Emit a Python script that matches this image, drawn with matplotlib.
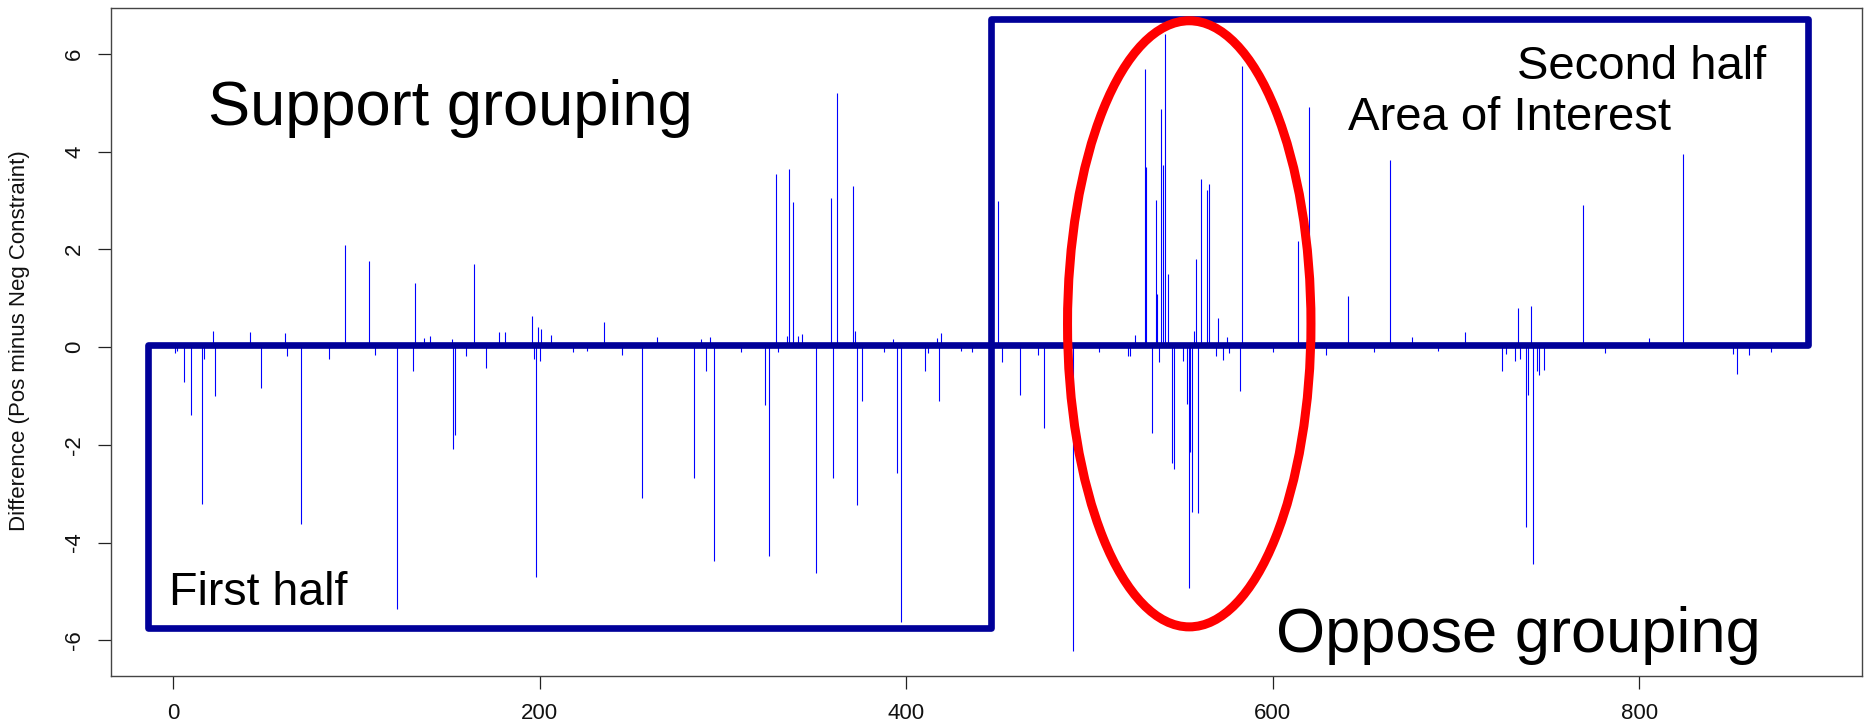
import numpy as np
import matplotlib
matplotlib.use("Agg")
import matplotlib.pyplot as plt
from matplotlib.patches import Rectangle, Ellipse

plt.rcParams['font.family'] = ['Liberation Sans', 'DejaVu Sans']
plt.rcParams['axes.unicode_minus'] = False

# ---- data: series length and the non-zero differences ----
n_points = 885
spike_index = [
    1, 2, 6, 10, 16, 17, 22, 23, 42, 48, 61, 62, 70, 85, 94, 107, 110, 122, 131, 132,
    137, 140, 152, 153, 154, 160, 164, 171, 178, 181, 196, 197, 198, 199, 200, 201, 206,
    218, 226, 235, 245, 256, 264, 284, 288, 291, 293, 295, 310, 323, 325, 329, 330, 335,
    336, 338, 341, 343, 351, 359, 360, 362, 371, 372, 373, 376, 388, 393, 395, 397, 410,
    412, 417, 418, 419, 430, 436,
    450, 452, 462, 472, 475, 491, 505, 521, 522, 525, 530, 531, 534, 536, 537, 538, 539,
    540, 541, 543, 545, 546, 551, 553, 554, 555, 556, 557, 558, 559, 561, 564, 565, 569,
    570, 573, 575, 576, 582, 583, 600, 614, 620, 629, 641, 655, 664, 676, 690,
    705, 725, 727, 732, 734, 735, 738, 739, 741, 742, 744, 745, 748, 769, 781, 805, 824,
    851, 853, 860, 872,
]
spike_value = [
    -0.12, -0.08, -0.71, -1.40, -3.22, -0.25, 0.33, -1.00, 0.31, -0.84, 0.28, -0.19, -3.62,
    -0.25, 2.09, 1.75, -0.17, -5.35, -0.48, 1.31, 0.19, 0.23, 0.17, -2.09, -1.80, -0.19,
    1.69, -0.43, 0.31, 0.31, 0.63, -0.25, -4.70, 0.40, -0.28, 0.36, 0.25,
    -0.10, -0.09, 0.52, -0.17, -3.09, 0.20, -2.67, 0.17, -0.50, 0.20, -4.38, -0.10, -1.19,
    -4.28, 3.53, -0.10, 0.23, 3.64, 2.96, 0.23, 0.26, -4.62, 3.05, -2.67, 5.20, 3.30, 0.33,
    -3.23, -1.10, -0.10, 0.17, -2.57, -5.62, -0.48, -0.13, 0.18, -1.11, 0.28, -0.09, -0.10,
    2.99, -0.31, -0.98, -0.17, -1.65, -6.22, -0.10, -0.18, -0.18, 0.25, 5.69, 3.68, -1.75,
    3.01, 1.09, -0.31, 4.86, 3.72, 6.41, 1.49, -2.38, -2.49, -0.29, -1.17, -4.93, -2.15,
    -3.38, 0.33, 1.81, -3.40, 3.44, 3.22, 3.33, -0.18, 0.60, -0.27, 0.20, -0.13, -0.89,
    5.75, -0.10, 2.16, 4.91, -0.17, 1.04, -0.10, 3.82, 0.20, -0.09,
    0.31, -0.48, -0.15, -0.29, 0.80, -0.25, -3.69, -0.98, 0.84, -4.44, -0.50, -0.58, -0.46,
    2.90, -0.13, 0.19, 3.94, -0.15, -0.56, -0.17, -0.10,
]

x_ticks = [0, 200, 400, 600, 800]
y_ticks = [-6, -4, -2, 0, 2, 4, 6]
y_label = "Difference (Pos minus Neg Constraint)"

index = np.arange(1, n_points + 1)
difference = np.zeros(n_points)
difference[np.array(spike_index) - 1] = spike_value

# ---- figure ----
W, H = 1866, 727
fig = plt.figure(figsize=(W / 100, H / 100), dpi=100)
ax = fig.add_axes([111 / W, 1 - 676 / H, (1862 - 111) / W, (676 - 8.3) / H])

ax.vlines(index, 0, difference, color='#0000FF', lw=0.8, zorder=2)

ax.set_xlim(-33.8, 921.4)
ax.set_ylim(-6.73, 6.93)
ax.set_xticks(x_ticks)
ax.set_yticks(y_ticks)
ax.tick_params(axis='both', direction='out', length=9.2, width=0.9, labelsize=16,
               color='#222222', labelcolor='#111111')
ax.tick_params(axis='x', pad=10.5)
ax.tick_params(axis='y', pad=9.5)
for lab in ax.get_yticklabels():
    lab.set_rotation(90)
    lab.set_va('center')
    lab.set_ha('right')
for sp in ax.spines.values():
    sp.set_color('#444444')
    sp.set_linewidth(1.0)

fig.text(25 / W, 1 - 341 / H, y_label, rotation=90, rotation_mode='anchor',
         ha='center', va='baseline', fontsize=16, color='#111111')

# ---- annotation overlays ----
navy = '#000099'
box1 = Rectangle((-13.5, -5.74), 446.5 + 13.5, 5.74 + 0.05, fill=False, ec=navy,
                 lw=4.8, joinstyle='round', zorder=3)
box2 = Rectangle((446.5, 0.05), 892.0 - 446.5, 6.72 - 0.05, fill=False, ec=navy,
                 lw=4.8, joinstyle='round', zorder=3)
ax.add_patch(box1)
ax.add_patch(box2)
ell = Ellipse((554.4, 0.475), 132.8, 12.4, fill=False, ec='#FF0000', lw=6.5, zorder=4)
ax.add_patch(ell)

ax.text(18.9, 4.54, "Support grouping", fontsize=45.5, ha='left', va='baseline', zorder=5)
ax.text(-2.0, -5.27, "First half", fontsize=33.5, ha='left', va='baseline', zorder=5)
ax.text(733.2, 5.48, "Second half", fontsize=34, ha='left', va='baseline', zorder=5)
ax.text(641.2, 4.44, "Area of Interest", fontsize=34, ha='left', va='baseline', zorder=5)
ax.text(601.6, -6.23, "Oppose grouping", fontsize=45.5, ha='left', va='baseline', zorder=5)

fig.savefig("out.png", dpi=100, facecolor='white')
